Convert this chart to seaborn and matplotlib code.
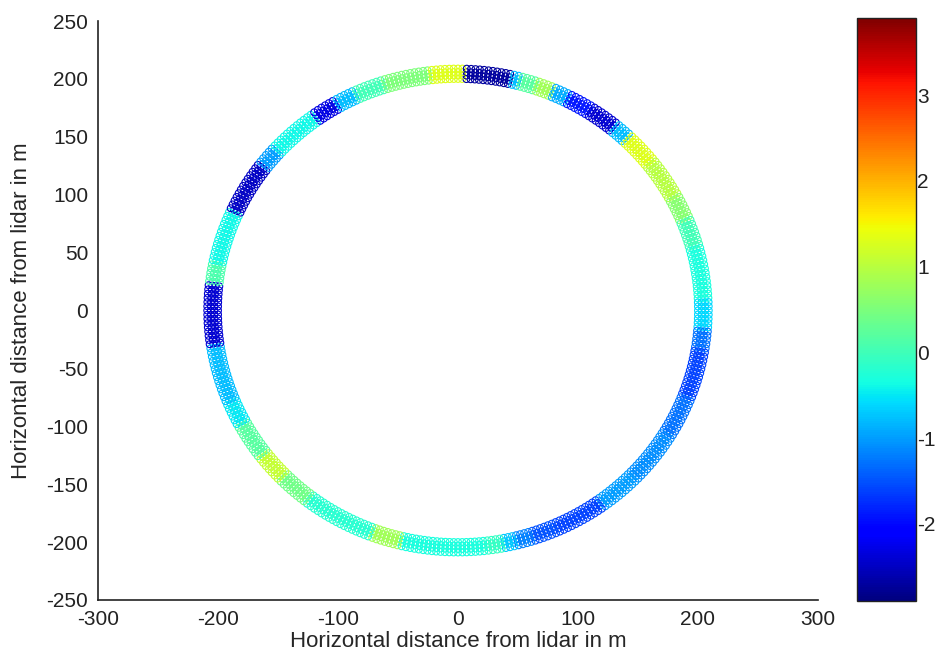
import numpy as np
import pandas as pd
import matplotlib
matplotlib.use("Agg")
import matplotlib.pyplot as plt
import seaborn as sns

# Radial wind anomaly around one lidar PPI ring, grouped into azimuth sectors
# (azimuth measured clockwise from north, degrees)
sector_start_deg = [0, 2, 13, 15, 19, 23, 27, 33, 40, 44, 52, 62, 68, 75, 88,
                    95, 100, 112, 122, 135, 145, 157, 163, 167, 170, 174, 194,
                    201, 218, 226, 233, 242, 248, 262, 277, 282, 295, 308, 313,
                    325, 331, 336, 343, 354]
sector_value = [1.3, -2.7, -0.8, 0.2, 0.8, -0.9, -1.9, -2.4, -0.8, 1.3, 1.0,
                0.6, 0.0, -0.3, -0.6, -1.3, -1.6, -1.3, -1.1, -1.0, -1.6, -1.5,
                -1.2, -0.7, -0.1, -0.3, 0.8, -0.2, 0.4, 1.1, 0.2, -0.5, -0.8,
                -2.4, 0.1, -0.4, -2.5, -1.0, -0.4, -2.3, -0.8, 0.0, 0.5, 1.3]

# Beam azimuths and range gates of the scan
azimuth_deg = np.arange(0.0, 360.0, 1.0)
range_gates_m = [200.0, 203.0, 206.0, 209.0]

color_min, color_max = -2.9, 3.9
cbar_ticks = [-2, -1, 0, 1, 2, 3]
axis_ticks_x = [-300, -200, -100, 0, 100, 200, 300]
axis_ticks_y = [-250, -200, -150, -100, -50, 0, 50, 100, 150, 200, 250]

# Build the scan table
sector_idx = np.searchsorted(sector_start_deg, azimuth_deg, side="right") - 1
beam_value = np.asarray(sector_value)[sector_idx]
rows = []
for r in range_gates_m:
    az = np.deg2rad(azimuth_deg)
    rows.append(pd.DataFrame({
        "x": r * np.sin(az),
        "y": r * np.cos(az),
        "value": beam_value,
    }))
scan = pd.concat(rows, ignore_index=True)

sns.set_style("white")
plt.rcParams["font.family"] = ["Liberation Sans", "DejaVu Sans"]
plt.rcParams["axes.unicode_minus"] = False

fig = plt.figure(figsize=(9.39, 6.62), dpi=100)
ax = fig.add_axes([0.1044, 0.0937, 0.7667, 0.8745])
cax = fig.add_axes([0.913, 0.0922, 0.062, 0.8806])

jet = matplotlib.colormaps["jet"]
norm = matplotlib.colors.Normalize(vmin=color_min, vmax=color_max)
sns.scatterplot(data=scan, x="x", y="y", hue="value", palette=jet,
                hue_norm=norm, marker="o", s=24, legend=False, ax=ax)
# open circles, like the classic scatter look
coll = ax.collections[0]
fc = coll.get_facecolors()
coll.set_edgecolors(fc)
coll.set_facecolors("none")
coll.set_linewidths(0.8)

ax.set_xlim(-300, 300)
ax.set_ylim(-250, 250)
ax.set_xticks(axis_ticks_x)
ax.set_yticks(axis_ticks_y)
ax.set_xlabel("Horizontal distance from lidar in m", fontsize=16, labelpad=2)
ax.set_ylabel("Horizontal distance from lidar in m", fontsize=16, labelpad=10)
ax.tick_params(direction="in", length=6, width=1, labelsize=15, colors="#222222")
ax.tick_params(axis="x", pad=7)
ax.tick_params(axis="y", pad=7)
for side in ["top", "right"]:
    ax.spines[side].set_visible(False)
for side in ["left", "bottom"]:
    ax.spines[side].set_color("#222222")
    ax.spines[side].set_linewidth(1.2)

sm = matplotlib.cm.ScalarMappable(norm=norm, cmap=jet)
cb = fig.colorbar(sm, cax=cax, ticks=cbar_ticks)
cb.outline.set_edgecolor("#222222")
cb.outline.set_linewidth(1.0)
cax.tick_params(direction="in", length=5, width=1, labelsize=15,
                colors="#222222", left=True, right=True, pad=1)

fig.savefig("out.png", dpi=100, facecolor="white")
